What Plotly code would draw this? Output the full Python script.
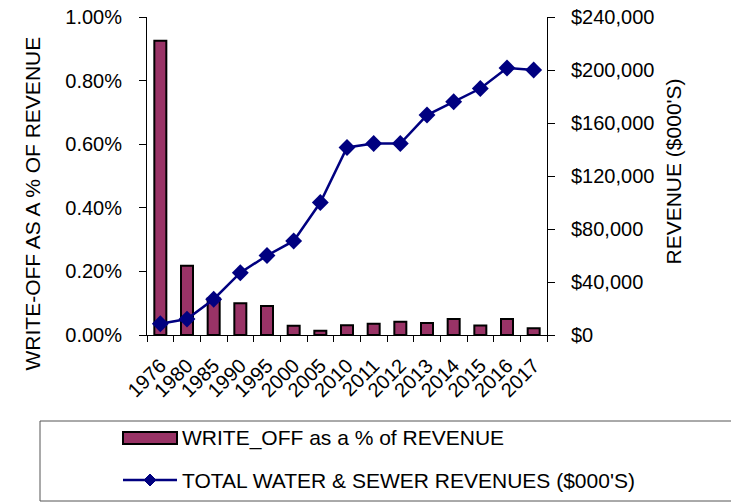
import plotly.graph_objects as go

# Fiscal years shown on the category axis
years = ["1976", "1980", "1985", "1990", "1995", "2000", "2005", "2010",
         "2011", "2012", "2013", "2014", "2015", "2016", "2017"]

# Write-offs as a fraction of revenue (left axis, shown in percent)
write_off_pct = [0.00925, 0.00218, 0.00115, 0.00100, 0.00091, 0.00029, 0.00013,
                 0.00031, 0.00035, 0.00042, 0.00038, 0.00050, 0.00030, 0.00050, 0.00021]

# Total water & sewer revenues in $000's (right axis)
revenues = [8500, 12000, 27000, 47000, 60000, 71000, 100000, 141500,
            144500, 144500, 166000, 176000, 186000, 201500, 200000]

# Axis tick values
pct_ticks = [0, 0.002, 0.004, 0.006, 0.008, 0.010]
rev_ticks = [0, 40000, 80000, 120000, 160000, 200000, 240000]
rev_labels = [f"${v:,}" for v in rev_ticks]

bar_name = "WRITE_OFF as a % of REVENUE"
line_name = "TOTAL WATER & SEWER REVENUES ($000'S)"

BAR_COLOR = "#993366"
LINE_COLOR = "#000080"
FONT = "Liberation Sans, Arial, sans-serif"

W, H = 731, 502
ML, MR, MT, MB = 147, 184, 17, 167
PW, PH = W - ML - MR, H - MT - MB


def px(x):
    """Horizontal page pixel -> paper coordinate."""
    return (x - ML) / PW


def py(y):
    """Vertical page pixel (from top) -> paper coordinate."""
    return (H - MB - y) / PH


fig = go.Figure()

fig.add_trace(go.Bar(
    x=years, y=write_off_pct,
    name=bar_name,
    marker=dict(color=BAR_COLOR, line=dict(color="#000000", width=2)),
    width=0.45,
))

fig.add_trace(go.Scatter(
    x=years, y=revenues, yaxis="y2",
    name=line_name,
    mode="lines+markers",
    line=dict(color=LINE_COLOR, width=2.5),
    marker=dict(symbol="diamond", size=13, color=LINE_COLOR),
))

fig.update_layout(
    width=W, height=H,
    margin=dict(l=ML, r=MR, t=MT, b=MB, autoexpand=False),
    paper_bgcolor="white", plot_bgcolor="white",
    font=dict(family=FONT, size=20, color="black"),
    showlegend=False,
    xaxis=dict(
        type="category",
        range=[-0.5, 14.5],
        tickangle=-45,
        ticks="outside", tickson="boundaries", ticklen=6,
        tickcolor="black", tickwidth=1,
        showline=True, linecolor="black", linewidth=1,
        showgrid=False, zeroline=False,
        ticklabelstandoff=10,
    ),
    yaxis=dict(
        range=[0, 0.01],
        tickvals=pct_ticks,
        tickformat=".2%",
        ticks="outside", ticklen=7, tickcolor="black",
        showline=True, linecolor="black", linewidth=1,
        showgrid=False, zeroline=False,
        ticklabelstandoff=13,
    ),
    yaxis2=dict(
        overlaying="y", side="right",
        range=[0, 240000],
        tickvals=rev_ticks, ticktext=rev_labels,
        ticks="outside", ticklen=7, tickcolor="black",
        showline=True, linecolor="black", linewidth=1,
        showgrid=False, zeroline=False,
        ticklabelstandoff=12,
    ),
)

# Axis titles
fig.add_annotation(
    text="WRITE-OFF AS A % OF REVENUE", textangle=-90,
    xref="paper", yref="paper", x=px(18), y=py(204),
    showarrow=False, font=dict(size=21),
)
fig.add_annotation(
    text="REVENUE ($000'S)", textangle=-90,
    xref="paper", yref="paper", x=px(686), y=py(172),
    showarrow=False, font=dict(size=21),
)

# Legend: frame, swatches and labels
fig.add_shape(
    type="rect", xref="paper", yref="paper",
    x0=px(40), x1=px(745), y0=py(501), y1=py(421),
    line=dict(color="#555555", width=1),
)
fig.add_shape(
    type="rect", xref="paper", yref="paper",
    x0=px(123), x1=px(177), y0=py(444), y1=py(432),
    fillcolor=BAR_COLOR, line=dict(color="#000000", width=2),
)
fig.add_shape(
    type="line", xref="paper", yref="paper",
    x0=px(123), x1=px(177), y0=py(480), y1=py(480),
    line=dict(color=LINE_COLOR, width=2.5),
)
cx, cy, d = 150, 480, 6
fig.add_shape(
    type="path", xref="paper", yref="paper",
    path=(f"M{px(cx)},{py(cy - d)} L{px(cx + d)},{py(cy)} "
          f"L{px(cx)},{py(cy + d)} L{px(cx - d)},{py(cy)} Z"),
    fillcolor=LINE_COLOR, line=dict(color=LINE_COLOR, width=1),
)
fig.add_annotation(
    text=bar_name, xref="paper", yref="paper",
    x=px(180), y=py(438), xanchor="left", yanchor="middle",
    showarrow=False, font=dict(size=21),
)
fig.add_annotation(
    text=line_name, xref="paper", yref="paper",
    x=px(180), y=py(480), xanchor="left", yanchor="middle",
    showarrow=False, font=dict(size=21),
)

fig.write_html("out.html")
